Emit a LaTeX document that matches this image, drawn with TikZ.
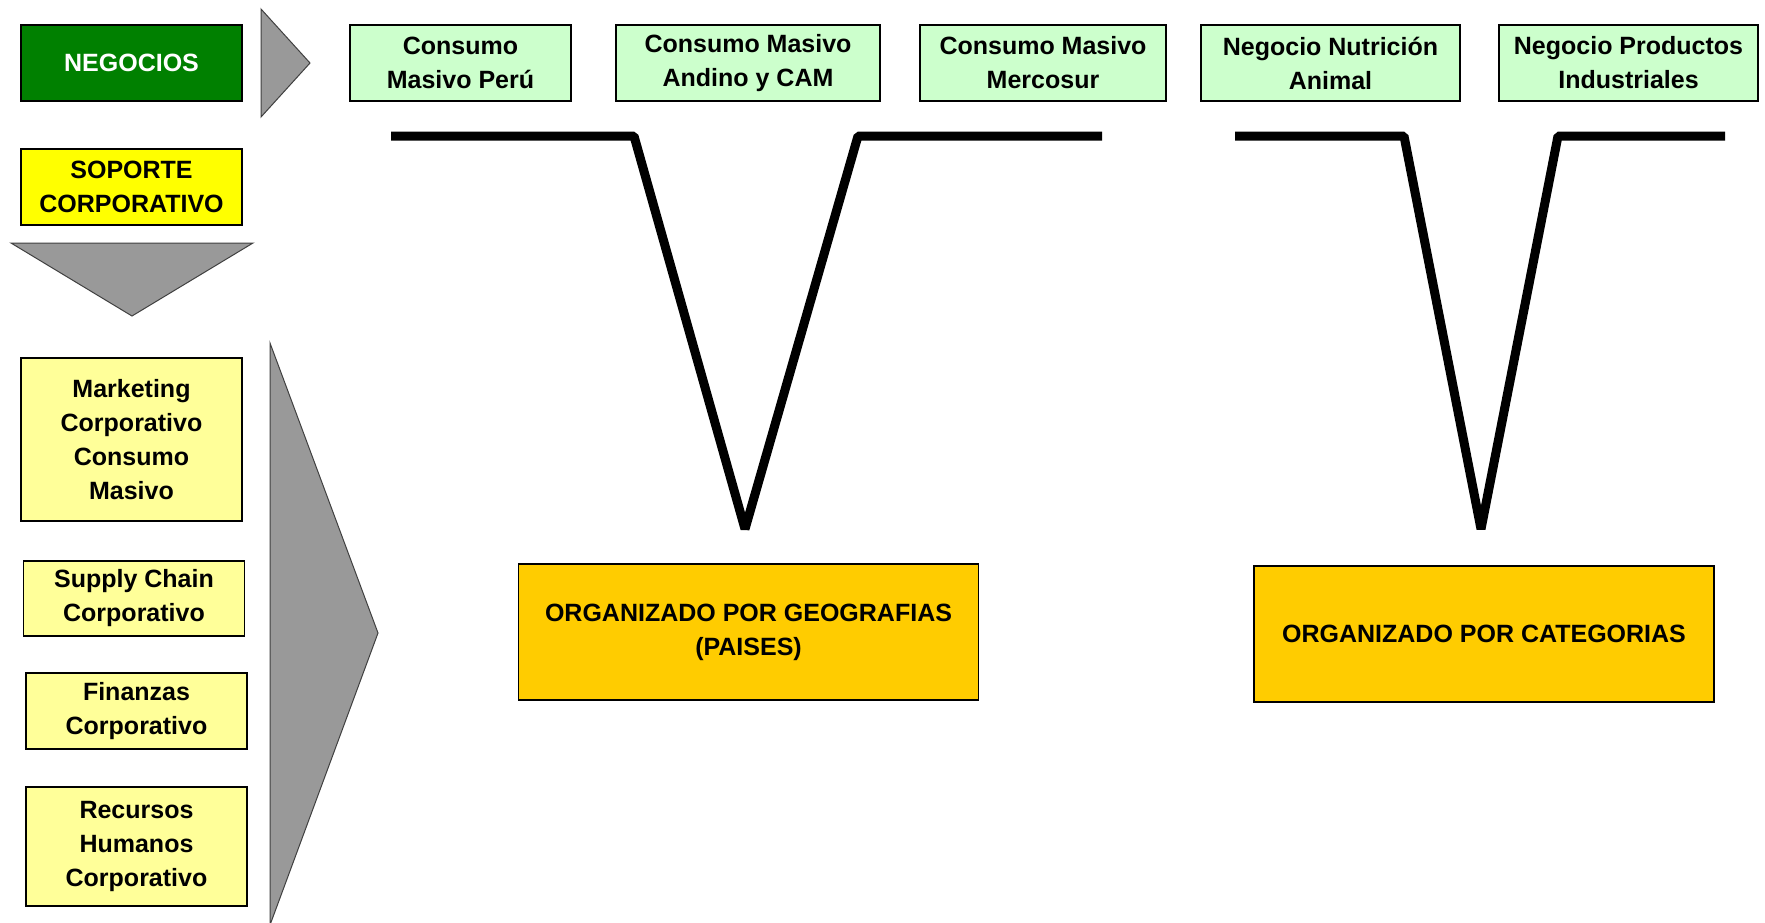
\documentclass[tikz,border=0pt]{standalone}
\usepackage{fontspec}
\setmainfont{Liberation Sans}
\definecolor{darkgreen}{HTML}{008000}
\definecolor{lightgreen}{HTML}{CCFFCC}
\definecolor{paleyellow}{HTML}{FFFF99}
\definecolor{brightyellow}{HTML}{FFFF00}
\definecolor{goldbox}{HTML}{FFCC00}
\definecolor{arrowgray}{HTML}{999999}
\definecolor{edgegray}{HTML}{404040}
\begin{document}
\begin{tikzpicture}[x=1pt,y=-1pt,
  box/.style={draw=black, line width=1.5pt, align=center, inner sep=0pt,
    font=\fontsize{25}{34}\selectfont\bfseries, text=black},
  topbox/.style={box, fill=lightgreen, minimum height=76pt},
  sidebox/.style={box, fill=paleyellow, minimum width=221pt},
  goalbox/.style={box, fill=goldbox, minimum width=460pt, minimum height=136pt},
  arrowshape/.style={fill=arrowgray, draw=edgegray, line width=1pt, line join=miter},
  vline/.style={line width=9pt, line join=bevel}]
\useasboundingbox (0,0) rectangle (1765,922);
\fill[white] (0,0) rectangle (1765,922);

% left column
\node[box, fill=darkgreen, text=white, minimum width=221pt, minimum height=76pt] (neg) at (131.5,63) {NEGOCIOS};
\node[box, fill=brightyellow, minimum width=221pt, minimum height=76pt] (sop) at (131.5,187) {SOPORTE\\CORPORATIVO};
\node[sidebox, minimum height=163pt] (mkt) at (131.5,439.5) {Marketing\\Corporativo\\Consumo\\Masivo};
\node[sidebox, minimum height=75pt] (sup) at (134,598.5) {Supply Chain\\Corporativo};
\node[sidebox, minimum height=76pt] (fin) at (136.5,711) {Finanzas\\Corporativo};
\node[sidebox, minimum height=119pt] (rh) at (136.5,846.5) {Recursos\\Humanos\\Corporativo};

% arrow shapes
\draw[arrowshape] (261,9) -- (310,63) -- (261,117) -- cycle;
\draw[arrowshape] (11,243) -- (253,243) -- (132,316) -- cycle;
\draw[arrowshape] (270,343) -- (378,633) -- (270,925) -- cycle;

% top business boxes
\node[topbox, minimum width=221pt] (b1) at (460.5,63) {Consumo\\Masivo Perú};
\node[topbox, minimum width=264pt] (b2) at (748,63) {Consumo Masivo\\Andino y CAM};
\node[topbox, minimum width=246pt] (b3) at (1043,63) {Consumo Masivo\\Mercosur};
\node[topbox, minimum width=259pt] (b4) at (1330.5,63) {Negocio Nutrición\\Animal};
\node[topbox, minimum width=259pt] (b5) at (1628.5,63) {Negocio Productos\\Industriales};

% V shapes
\draw[vline] (391,136) -- (634,136) -- (745,529) -- (858,136) -- (1102,136);
\draw[vline] (1235,136) -- (1404,136) -- (1481,529) -- (1558,136) -- (1725,136);

% organisation boxes
\node[goalbox] (geo) at (748.5,632) {ORGANIZADO POR GEOGRAFIAS\\(PAISES)};
\node[goalbox] (cat) at (1484,634) {ORGANIZADO POR CATEGORIAS};
\end{tikzpicture}
\end{document}
